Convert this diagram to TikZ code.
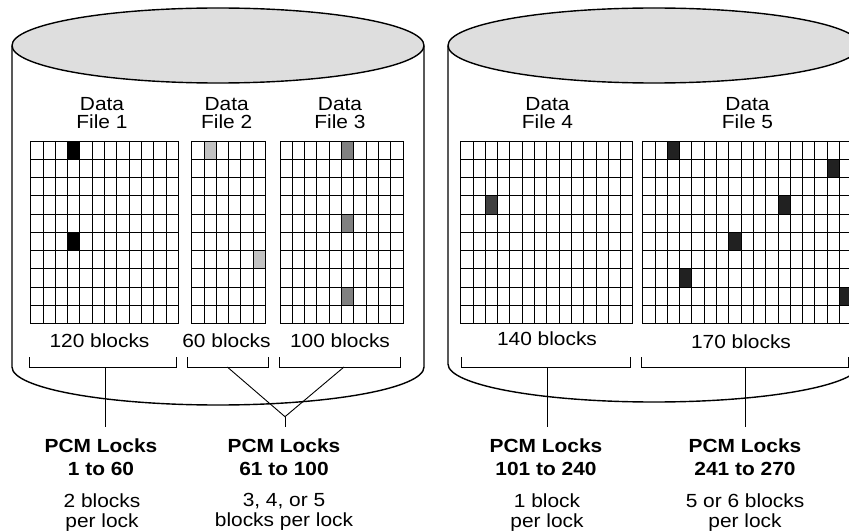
\documentclass[tikz,border=0pt]{standalone}
\usepackage{fontspec}
\setmainfont{Liberation Sans}[FakeStretch=1.1]
\usepackage{tikz}

\definecolor{topgray}{gray}{0.87}
\definecolor{shadeone}{gray}{0}
\definecolor{shadetwo}{gray}{0.76}
\definecolor{shadethree}{gray}{0.5}
\definecolor{shadefour}{gray}{0.25}
\definecolor{shadefive}{gray}{0.13}

\tikzset{
  disk/.style={line width=1.4pt},
  gridline/.style={line width=0.9pt},
  bracketline/.style={line width=0.9pt},
  filelabel/.style={anchor=north, align=center, inner sep=0pt, font=\fontsize{19}{17.4}\selectfont},
  blockcount/.style={anchor=base, inner sep=0pt, font=\fontsize{19}{22}\selectfont},
  locklabel/.style={anchor=north, align=center, inner xsep=0pt, inner ysep=12pt, font=\fontsize{19}{22.3}\selectfont\bfseries},
  perlock/.style={anchor=north, align=center, inner sep=0pt, font=\fontsize{19}{19.6}\selectfont}
}

\begin{document}
\begin{tikzpicture}[x=1pt, y=-1pt]
  \useasboundingbox (0,0) rectangle (849,532);
  \clip (0,0) rectangle (849,532);

  % the two disks
  \draw[disk, fill=white] (12,46) -- (12,367) arc[start angle=180, end angle=0, x radius=206, y radius=38] -- (424,46);
  \draw[disk, fill=topgray] (218,45.5) ellipse[x radius=206, y radius=37.5];
  \draw[disk, fill=white] (448,46) -- (448,364) arc[start angle=180, end angle=0, x radius=206, y radius=38] -- (860,46);
  \draw[disk, fill=topgray] (654,45.5) ellipse[x radius=206, y radius=37.5];

  % locked blocks
  \foreach \gx/\c/\r/\col in {30.7/3/0/shadeone, 30.7/3/5/shadeone,
      191.7/1/0/shadetwo, 191.7/5/6/shadetwo,
      280/5/0/shadethree, 280/5/4/shadethree, 280/5/8/shadethree,
      460.7/2/3/shadefour,
      642.7/2/0/shadefive, 642.7/15/1/shadefive, 642.7/11/3/shadefive,
      642.7/7/5/shadefive, 642.7/3/7/shadefive, 642.7/16/8/shadefive}
    \fill[\col] (\gx+\c*12.3,141+\r*18.25) rectangle ++(12.3,18.25);

  % block grids
  \foreach \gx/\gn in {30.7/12, 191.7/6, 280/10, 460.7/14, 642.7/17} {
    \foreach \i in {0,...,\gn}
      \draw[gridline] (\gx+\i*12.3,141) -- ++(0,182.5);
    \foreach \j in {0,...,10}
      \draw[gridline] (\gx,141+\j*18.25) -- ++(\gn*12.3,0);
  }

  \node[filelabel] (f1) at (102,97.5) {Data\\File 1};
  \node[filelabel] (f2) at (226.7,97.5) {Data\\File 2};
  \node[filelabel] (f3) at (340,97.5) {Data\\File 3};
  \node[filelabel] (f4) at (547.5,97.5) {Data\\File 4};
  \node[filelabel] (f5) at (747.5,97.5) {Data\\File 5};

  \node[blockcount] (c1) at (99.5,347.7) {120 blocks};
  \node[blockcount] (c2) at (226.5,347.7) {60 blocks};
  \node[blockcount] (c3) at (340,347.7) {100 blocks};
  \node[blockcount] (c4) at (547,345) {140 blocks};
  \node[blockcount] (c5) at (741,348.3) {170 blocks};

  % brackets under the counts
  \foreach \a/\b/\m/\n in {29.3/176.7/105/br1, 187.3/268.3/227.3/br2, 279/400/344/br3,
      461.7/630/547.3/br4, 641.7/848/745.7/br5} {
    \draw[bracketline] (\a,357) |- (\b,367) -- (\b,357);
    \coordinate (\n) at (\m,367);
  }
  \coordinate (j23) at (285,416.7);

  \node[locklabel] (lk1) at (101,427) {PCM Locks\\1 to 60};
  \node[locklabel] (lk2) at (284,427) {PCM Locks\\61 to 100};
  \node[locklabel] (lk3) at (546,427) {PCM Locks\\101 to 240};
  \node[locklabel] (lk4) at (745,427) {PCM Locks\\241 to 270};

  \node[perlock] (pl1) at (102,493.5) {2 blocks\\per lock};
  \node[perlock] (pl2) at (284,493.5) {3, 4, or 5\\blocks per lock};
  \node[perlock] (pl3) at (547,493.5) {1 block\\per lock};
  \node[perlock] (pl4) at (745,493.5) {5 or 6 blocks\\per lock};

  \draw[bracketline] (br1) -- (br1 |- lk1.north);
  \draw[bracketline] (br2) -- (j23) -- (br3);
  \draw[bracketline] (j23) -- (j23 |- lk2.north);
  \draw[bracketline] (br4) -- (br4 |- lk3.north);
  \draw[bracketline] (br5) -- (br5 |- lk4.north);
\end{tikzpicture}
\end{document}
